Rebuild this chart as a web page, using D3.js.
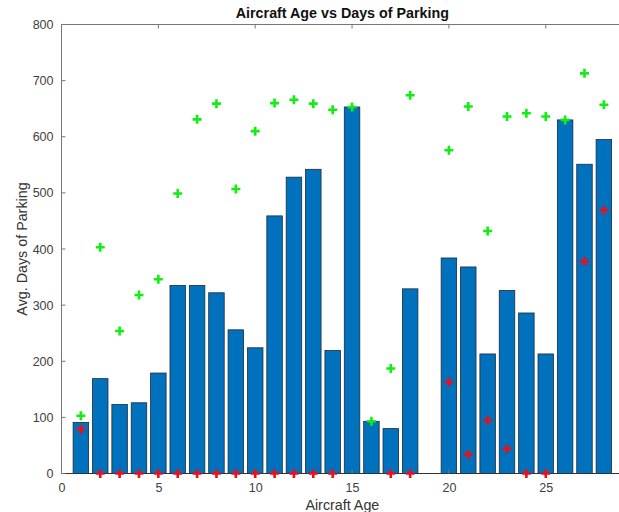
<!DOCTYPE html>
<html><head><meta charset="utf-8">
<script src="https://cdn.jsdelivr.net/npm/d3@7"></script>
<style>body{margin:0;background:#fff}svg{display:block}text{font-family:"Liberation Sans",Arial,Helvetica,sans-serif}</style>
</head><body>
<svg id="c" width="619" height="512"></svg>
<script>
const ages = d3.range(1, 29);
const avgDays = [91,169,123,126,179,335,335,322,256,224,459,528,542,219,653,93,80,329,null,384,368,213,326,286,213,630,551,595];
const maxDays = [103,403,254,318,346,499,631,659,507,610,660,666,659,648,653,93,187,674,null,576,654,432,636,642,636,630,713,657];
const minDays = [79,0,0,0,0,0,0,0,0,0,0,0,0,0,null,null,0,0,null,163,34,95,44,0,0,null,378,469];
const xTicks = [0,5,10,15,20,25];
const yTicks = [0,100,200,300,400,500,600,700,800];

const svg = d3.select("#c");
const L = 61.5, T = 24.5, B = 473.5, unit = 19.37;
const x = d3.scaleLinear().domain([0, 29]).range([L, L + 29*unit]);
const y = d3.scaleLinear().domain([0, 800]).range([B, T]);
const bw = x(0.8) - x(0);

// bars
svg.append("g").selectAll("rect").data(ages.map((a,i)=>({a, v: avgDays[i]})).filter(d=>d.v!=null))
  .join("rect")
  .attr("x", d => x(d.a) - bw/2).attr("width", bw)
  .attr("y", d => y(d.v)).attr("height", d => y(0) - y(d.v))
  .attr("fill", "#0072BD").attr("stroke", "#1c2a3a").attr("stroke-width", 0.8);

// baseline
svg.append("line").attr("x1", L).attr("x2", 619).attr("y1", y(0)).attr("y2", y(0)).attr("stroke", "#333").attr("stroke-width", 1);

// axes
const ax = svg.append("g").attr("stroke", "#777").attr("stroke-width", 1).attr("fill", "none");
ax.append("line").attr("x1", L).attr("x2", L).attr("y1", T).attr("y2", B);
ax.append("line").attr("x1", L).attr("x2", 625).attr("y1", T).attr("y2", T);

const xb = svg.append("g").attr("transform", `translate(0,${B})`)
  .call(d3.axisBottom(x).tickValues(xTicks).tickSize(0).tickPadding(10).tickFormat(d3.format("d")));
xb.select(".domain").remove();
xb.selectAll("text").attr("font-size", 12.5).attr("fill", "#404040").attr("font-family", "Liberation Sans, Arial, sans-serif");

const yl = svg.append("g").attr("transform", `translate(${L},0)`)
  .call(d3.axisLeft(y).tickValues(yTicks).tickSize(0).tickPadding(8));
yl.select(".domain").remove();
yl.selectAll("text").attr("font-size", 12.5).attr("fill", "#404040").attr("font-family", "Liberation Sans, Arial, sans-serif");

// inward ticks
const tk = svg.append("g").attr("stroke", "#777").attr("stroke-width", 1);
xTicks.forEach(t => {
  tk.append("line").attr("x1", x(t)).attr("x2", x(t)).attr("y1", B).attr("y2", B - 4);
  tk.append("line").attr("x1", x(t)).attr("x2", x(t)).attr("y1", T).attr("y2", T + 4);
});
yTicks.forEach(t => {
  tk.append("line").attr("x1", L).attr("x2", L + 4).attr("y1", y(t)).attr("y2", y(t));
});

// markers
const plus = "M-4.5,0H4.5M0,-4.5V4.5";
function markers(vals, color) {
  svg.append("g").selectAll("path").data(ages.map((a,i)=>({a, v: vals[i]})).filter(d=>d.v!=null))
    .join("path").attr("d", plus)
    .attr("transform", d => `translate(${x(d.a)},${y(d.v)})`)
    .attr("stroke", color).attr("stroke-width", 2.6).attr("fill", "none");
}
markers(maxDays, "#11ee11");
markers(minDays, "#e8101c");

// labels
svg.append("text").attr("x", x(14.5)).attr("y", 18).attr("text-anchor", "middle")
  .attr("font-size", 14.3).attr("font-weight", "bold").attr("fill", "#111").text("Aircraft Age vs Days of Parking");
svg.append("text").attr("x", x(14.5)).attr("y", 510).attr("text-anchor", "middle")
  .attr("font-size", 14.3).attr("fill", "#333").text("Aircraft Age");
svg.append("text").attr("transform", `translate(27,${(T+B)/2}) rotate(-90)`).attr("text-anchor", "middle")
  .attr("font-size", 14.3).attr("fill", "#333").text("Avg. Days of Parking");
</script>
</body></html>
